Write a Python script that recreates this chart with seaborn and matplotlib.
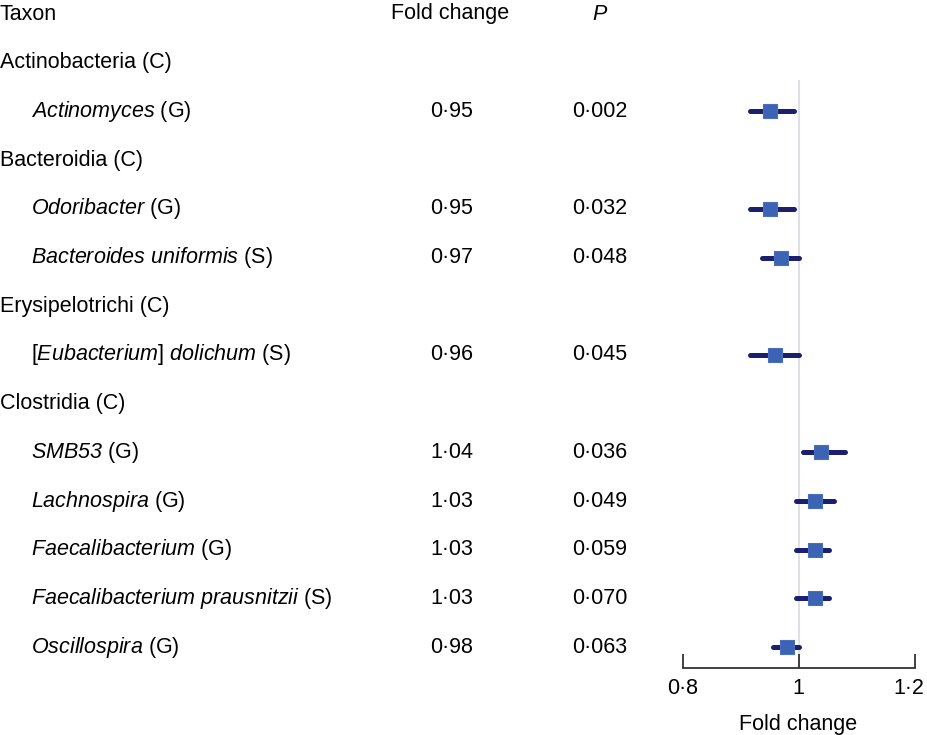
import matplotlib
matplotlib.use('Agg')
import matplotlib.pyplot as plt
import matplotlib.transforms as mtransforms
import seaborn as sns
import pandas as pd
import numpy as np

# Rows of the table (header row excluded), group rows have no estimate
labels = [
    'Actinobacteria (C)',
    r'$\mathit{Actinomyces}$ (G)',
    'Bacteroidia (C)',
    r'$\mathit{Odoribacter}$ (G)',
    r'$\mathit{Bacteroides\ uniformis}$ (S)',
    'Erysipelotrichi (C)',
    r'[$\mathit{Eubacterium}$] $\mathit{dolichum}$ (S)',
    'Clostridia (C)',
    r'$\mathit{SMB53}$ (G)',
    r'$\mathit{Lachnospira}$ (G)',
    r'$\mathit{Faecalibacterium}$ (G)',
    r'$\mathit{Faecalibacterium\ prausnitzii}$ (S)',
    r'$\mathit{Oscillospira}$ (G)',
]
is_group = [True, False, True, False, False, True, False, True, False, False, False, False, False]
fold_txt = ['', '0·95', '', '0·95', '0·97', '', '0·96', '', '1·04', '1·03', '1·03', '1·03', '0·98']
p_txt = ['', '0·002', '', '0·032', '0·048', '', '0·045', '', '0·036', '0·049', '0·059', '0·070', '0·063']
estimate = [np.nan, 0.95, np.nan, 0.95, 0.969, np.nan, 0.959, np.nan, 1.039, 1.028, 1.028, 1.029, 0.98]
lower = [np.nan, 0.917, np.nan, 0.917, 0.937, np.nan, 0.917, np.nan, 1.007, 0.996, 0.996, 0.996, 0.956]
upper = [np.nan, 0.993, np.nan, 0.993, 1.001, np.nan, 1.001, np.nan, 1.081, 1.061, 1.052, 1.052, 1.001]
xticks = [0.8, 1.0, 1.2]
xtick_labels = ['0·8', '1', '1·2']

df = pd.DataFrame({'label': labels, 'group': is_group, 'fold': fold_txt, 'p': p_txt,
                   'est': estimate, 'lo': lower, 'hi': upper})
df['row'] = np.arange(1, len(df) + 1)

sns.set_theme(style='white')
plt.rcParams['font.family'] = ['Liberation Sans', 'DejaVu Sans']
plt.rcParams['text.color'] = 'black'
plt.rcParams['xtick.color'] = 'black'
plt.rcParams['axes.labelcolor'] = 'black'
# italic pieces go through mathtext; digits too should be italic
plt.rcParams['mathtext.fontset'] = 'custom'
plt.rcParams['mathtext.rm'] = 'Liberation Sans:italic'
plt.rcParams['mathtext.it'] = 'Liberation Sans:italic'

W, H = 927, 735
fig = plt.figure(figsize=(W / 100, H / 100), dpi=100)
ax = fig.add_axes([682.5 / W, 1 - 668 / H, (914.5 - 682.5) / W, 668 / H])

step = 48.7
y0 = 14
ax.set_ylim((668 - y0) / step, -y0 / step)
ax.set_xlim(0.8, 1.2)

# reference line at 1
ax.vlines(1, (80 - y0) / step, (668 - y0) / step, color='#dde0e8', lw=1.5, zorder=0)

pts = df.dropna(subset=['est'])
ax.hlines(pts['row'], pts['lo'], pts['hi'], color='#1c1f6b', lw=3.6, capstyle='round', zorder=2)
sns.scatterplot(data=pts, x='est', y='row', marker='s', s=115, color='#3d63b5',
                edgecolor='#4a6fc0', linewidth=0.8, ax=ax, zorder=3, legend=False)

# table text
trans = mtransforms.blended_transform_factory(fig.transFigure, ax.transData)
fs = 15.5
ax.text(0 / W, 0, 'Taxon', transform=trans, fontsize=fs, va='center', ha='left', clip_on=False)
ax.text(450 / W, 0, 'Fold change', transform=trans, fontsize=fs, va='center', ha='center', clip_on=False)
ax.text(600 / W, 0, 'P', transform=trans, fontsize=fs, va='center', ha='center',
        fontstyle='italic', clip_on=False)
for _, r in df.iterrows():
    x = 0 if r['group'] else 31
    ax.text(x / W, r['row'], r['label'], transform=trans, fontsize=fs, va='center',
            ha='left', clip_on=False)
    ax.text(452 / W, r['row'], r['fold'], transform=trans, fontsize=fs, va='center',
            ha='center', clip_on=False)
    ax.text(600 / W, r['row'], r['p'], transform=trans, fontsize=fs, va='center',
            ha='center', clip_on=False)

# axis styling
for s in ['left', 'right', 'top']:
    ax.spines[s].set_visible(False)
ax.spines['bottom'].set_color('#333333')
ax.spines['bottom'].set_linewidth(1.3)
ax.set_yticks([])
ax.set_xticks(xticks)
ax.set_xticklabels(xtick_labels)
ax.tick_params(axis='x', direction='in', length=10, width=1.3, color='#333333',
               labelsize=fs, pad=7, bottom=True)
# keep the last label inside the figure
last = ax.get_xticklabels()[-1]
last.set_transform(last.get_transform() + mtransforms.ScaledTranslation(-6 / 100, 0, fig.dpi_scale_trans))
ax.set_xlabel('Fold change', fontsize=fs, labelpad=11)
ax.set_ylabel('')
ax.patch.set_alpha(0)

fig.savefig('out.png', dpi=100)
